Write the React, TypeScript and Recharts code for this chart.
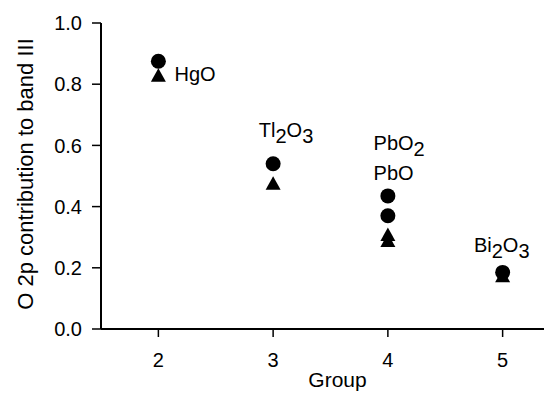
import React from 'react';
import { ScatterChart, Scatter, XAxis, YAxis } from 'recharts';

// group positions on the x axis
const groups = [2, 3, 4, 5];
const yTicks = [0, 0.2, 0.4, 0.6, 0.8, 1.0];

// filled circles
const circleX = [2, 3, 4, 4, 5];
const circleY = [0.875, 0.54, 0.435, 0.37, 0.185];

// filled triangles
const triangleX = [2, 3, 4, 4, 5];
const triangleY = [0.83, 0.477, 0.31, 0.29, 0.175];

// compound names ("_" marks a subscript digit) and where they sit in data space
const compounds = ['HgO', 'Tl_2O_3', 'PbO_2', 'PbO', 'Bi_2O_3'];
const labelX = [2.14, 2.875, 3.875, 3.875, 4.75];
const labelY = [0.833, 0.65, 0.608, 0.51, 0.275];

const circles = circleX.map((x, i) => ({ x, y: circleY[i] }));
const triangles = triangleX.map((x, i) => ({ x, y: triangleY[i] }));
const labels = compounds.map((name, i) => ({ x: labelX[i], y: labelY[i], name }));

const FONT = '"Liberation Sans", Arial, Helvetica, sans-serif';
const FS = 20;

const Dot = (props: any) => {
  const { cx, cy } = props;
  return <circle cx={cx} cy={cy} r={7.5} fill="#000" />;
};

const Tri = (props: any) => {
  const { cx, cy } = props;
  const w = 15;
  const h = 13.5;
  return (
    <path
      d={`M${cx},${cy - h / 2} L${cx + w / 2},${cy + h / 2} L${cx - w / 2},${cy + h / 2} Z`}
      fill="#000"
    />
  );
};

const Formula = (props: any) => {
  const { cx, cy, payload } = props;
  const name: string = payload.name;
  const parts: React.ReactNode[] = [];
  let sub = false;
  let shift = 0; // current baseline offset
  let k = 0;
  for (const ch of name) {
    if (ch === '_') {
      sub = true;
      continue;
    }
    const target = sub ? 6 : 0;
    parts.push(
      <tspan key={k++} dy={target - shift}>
        {ch}
      </tspan>
    );
    shift = target;
    sub = false;
  }
  return (
    <text x={cx} y={cy + 7} fontFamily={FONT} fontSize={FS} fill="#000" textAnchor="start">
      {parts}
    </text>
  );
};

const YTitle = (props: any) => {
  const vb = props.viewBox || { x: 0, y: 15, width: 93, height: 306 };
  const x = vb.x + 17;
  const y = vb.y + vb.height / 2 - 2;
  return (
    <text
      x={x}
      y={y}
      transform={`rotate(-90, ${x}, ${y})`}
      textAnchor="middle"
      dominantBaseline="central"
      fontFamily={FONT}
      fontSize={22}
      fill="#000"
    >
      O 2p contribution to band III
    </text>
  );
};

const XTitle = (props: any) => {
  const vb = props.viewBox || { x: 93, y: 321, width: 459, height: 64 };
  return (
    <text
      x={vb.x + vb.width / 2 + 7}
      y={vb.y + vb.height - 6}
      textAnchor="middle"
      fontFamily={FONT}
      fontSize={21}
      fill="#000"
    >
      Group
    </text>
  );
};

const App: React.FC = () => {
  return (
    <div style={{ width: 544, height: 385, overflow: 'hidden' }}>
      <ScatterChart
        width={552}
        height={385}
        margin={{ top: 15, right: 0, bottom: 0, left: 0 }}
        style={{ fontFamily: FONT }}
      >
        <XAxis
          type="number"
          dataKey="x"
          domain={[1.5, 5.5]}
          ticks={groups}
          height={64}
          tickSize={8}
          tickMargin={16}
          axisLine={{ stroke: '#000', strokeWidth: 2 }}
          tickLine={{ stroke: '#000', strokeWidth: 1.5 }}
          tick={{ fill: '#000', fontSize: FS, fontFamily: FONT }}
          label={{ content: XTitle }}
        />
        <YAxis
          type="number"
          dataKey="y"
          domain={[0, 1]}
          ticks={yTicks}
          width={93}
          tickSize={9}
          tickMargin={10}
          tickFormatter={(v: number) => v.toFixed(1)}
          axisLine={{ stroke: '#000', strokeWidth: 2 }}
          tickLine={{ stroke: '#000', strokeWidth: 1.5 }}
          tick={{ fill: '#000', fontSize: FS, fontFamily: FONT }}
          label={{ content: YTitle }}
        />
        <Scatter data={triangles} shape={<Tri />} isAnimationActive={false} />
        <Scatter data={circles} shape={<Dot />} isAnimationActive={false} />
        <Scatter data={labels} shape={<Formula />} isAnimationActive={false} />
      </ScatterChart>
    </div>
  );
};

export default App;
